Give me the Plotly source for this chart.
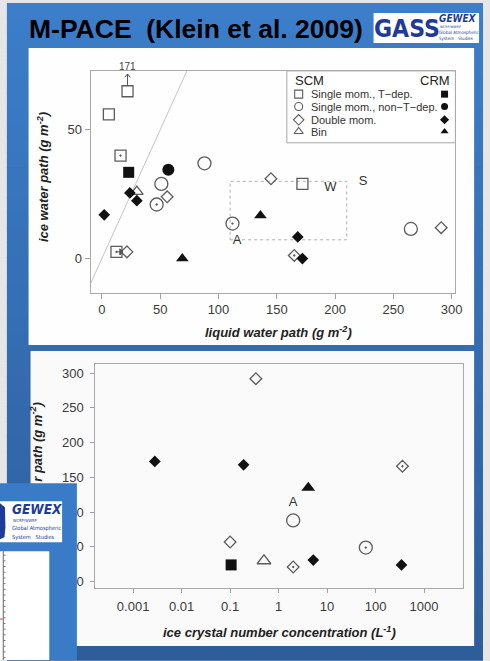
import plotly.graph_objects as go

W, H = 490, 661
SANS = "Liberation Sans, Arial, Helvetica, sans-serif"
NARROW = "Liberation Sans Narrow, DejaVu Sans Condensed, Arial Narrow, sans-serif"

# ---------------- upper panel: ice vs liquid water path (g m-2) ----------------
# SCM results (open symbols); "d" = variants drawn with a centre dot
scm_sq_lwp = [22, 6, 172]            # single moment, T-dependent
scm_sq_iwp = [171, 56, 29]
scm_sqd_lwp = [16, 12.5]
scm_sqd_iwp = [40, 2.6]
scm_ci_lwp = [88, 51, 265]           # single moment, non-T-dependent
scm_ci_iwp = [37, 29, 11.5]
scm_cid_lwp = [47, 112]
scm_cid_iwp = [21, 13.6]
scm_di_lwp = [56, 145, 291, 21.5]    # double moment
scm_di_iwp = [24, 31, 12, 2.6]
scm_did_lwp = [165]
scm_did_iwp = [1.2]
scm_tr_lwp = [30]                    # bin
scm_tr_iwp = [26]
# CRM results (filled symbols)
crm_sq_lwp = [23]
crm_sq_iwp = [33.5]
crm_ci_lwp = [57]
crm_ci_iwp = [34.5]
crm_di_lwp = [24, 30, 2, 168, 172]
crm_di_iwp = [25.5, 22.5, 17, 8.4, 0]
crm_tr_lwp = [136, 69]
crm_tr_iwp = [16.7, 0]
# observations
obs_lwp_range = [110, 210]
obs_iwp_range = [7.3, 30]
obs_labels = ["A", "W", "S"]
obs_lwp = [116, 196, 224]
obs_iwp = [7, 27.5, 30]

lwp_ticks = [0, 50, 100, 150, 200, 250, 300]
iwp_ticks = [0, 50]
IWP_SHOWN_MAX = 65   # larger values sit at this level, marked with an arrow
LWP_RANGE = [-9.6, 303.2]
IWP_RANGE = [-13.2, 72.9]

# ------------- lower panel: LWP vs ice crystal number concentration -------------
ni_di = [0.34, 0.1]                  # open diamond
lw_di = [292, 57]
ni_did = [359, 2.0]                  # open diamond with dot
lw_did = [166, 21]
ni_ci = [2.0]                        # open circle
lw_ci = [88]
ni_cid = [63]                        # open circle with dot
lw_cid = [49]
ni_tr = [0.5]                        # open triangle
lw_tr = [30]
ni_crm_di = [0.0028, 0.19, 5.2, 343] # filled diamond
lw_crm_di = [173, 168, 31, 24]
ni_crm_tr = [4.1]
lw_crm_tr = [135]
ni_crm_sq = [0.105]
lw_crm_sq = [24]
obs2_labels = ["A"]
obs2_ni = [2.0]
obs2_lwp = [114]

ni_ticks = [0.001, 0.01, 0.1, 1, 10, 100, 1000]
lw2_ticks = [0, 50, 100, 150, 200, 250, 300]

legend_names = ["Single mom., T\u2212dep.", "Single mom., non\u2212T\u2212dep.",
                "Double mom.", "Bin"]


def px(x):
    return x / W


def py(y):
    return 1 - y / H


def rect(x0, y0, x1, y1, fill, line=None, layer="below", dash=None):
    return dict(type="rect", xref="paper", yref="paper",
                x0=px(x0), x1=px(x1), y0=py(y1), y1=py(y0), fillcolor=fill,
                line=dict(width=1 if line else 0, color=line or fill, dash=dash),
                layer=layer)


def seg(x0, y0, x1, y1, color, width=1, layer="below"):
    return dict(type="line", xref="paper", yref="paper", x0=px(x0), x1=px(x1),
                y0=py(y0), y1=py(y1), line=dict(color=color, width=width), layer=layer)


def ann(text, x, y, size, color="#222", xanchor="center", yanchor="middle",
        family=SANS, angle=0):
    return dict(text=text, x=px(x), y=py(y), xref="paper", yref="paper",
                xanchor=xanchor, yanchor=yanchor, showarrow=False, textangle=angle,
                font=dict(size=size, color=color, family=family))


OPEN_COL = "#5c5c5c"
FILL_COL = "#111111"


def pts(x, y, symbol, size, filled, xa="x", ya="y"):
    col = FILL_COL if filled else OPEN_COL
    return go.Scatter(x=x, y=y, xaxis=xa, yaxis=ya, mode="markers",
                      hoverinfo="skip", cliponaxis=False,
                      marker=dict(symbol=symbol, size=size, color=col,
                                  line=dict(width=0 if filled else 1.3, color=col)))


fig = go.Figure()

# ---- upper panel traces ----
# 1:1 line across the axis range
fig.add_trace(go.Scatter(x=[LWP_RANGE[0], IWP_RANGE[1]], y=[LWP_RANGE[0], IWP_RANGE[1]],
                         mode="lines", line=dict(color="#c4c4c4", width=1),
                         hoverinfo="skip"))
sq_shown = [min(v, IWP_SHOWN_MAX) for v in scm_sq_iwp]
fig.add_trace(pts(scm_sq_lwp, sq_shown, "square-open", 11, False))
fig.add_trace(pts(scm_sqd_lwp, scm_sqd_iwp, "square-open-dot", 11, False))
fig.add_trace(pts(scm_ci_lwp, scm_ci_iwp, "circle-open", 13, False))
fig.add_trace(pts(scm_cid_lwp, scm_cid_iwp, "circle-open-dot", 13, False))
fig.add_trace(pts(scm_di_lwp, scm_di_iwp, "diamond-open", 9, False))
fig.add_trace(pts(scm_did_lwp, scm_did_iwp, "diamond-open-dot", 9, False))
fig.add_trace(pts(scm_tr_lwp, scm_tr_iwp, "triangle-up-open", 11, False))
fig.add_trace(pts(crm_sq_lwp, crm_sq_iwp, "square", 11, True))
fig.add_trace(pts(crm_ci_lwp, crm_ci_iwp, "circle", 12, True))
fig.add_trace(pts(crm_di_lwp, crm_di_iwp, "diamond", 9, True))
fig.add_trace(pts(crm_tr_lwp, crm_tr_iwp, "triangle-up", 11, True))
fig.add_trace(go.Scatter(x=obs_lwp, y=obs_iwp, mode="text", text=obs_labels,
                         textfont=dict(size=13, color="#333", family=SANS),
                         hoverinfo="skip", cliponaxis=False))

# ---- lower panel traces ----
fig.add_trace(pts(ni_di, lw_di, "diamond-open", 9, False, "x2", "y2"))
fig.add_trace(pts(ni_did, lw_did, "diamond-open-dot", 9, False, "x2", "y2"))
fig.add_trace(pts(ni_ci, lw_ci, "circle-open", 13, False, "x2", "y2"))
fig.add_trace(pts(ni_cid, lw_cid, "circle-open-dot", 13, False, "x2", "y2"))
fig.add_trace(pts(ni_tr, lw_tr, "triangle-up-open", 12, False, "x2", "y2"))
fig.add_trace(pts(ni_crm_di, lw_crm_di, "diamond", 9, True, "x2", "y2"))
fig.add_trace(pts(ni_crm_tr, lw_crm_tr, "triangle-up", 12, True, "x2", "y2"))
fig.add_trace(pts(ni_crm_sq, lw_crm_sq, "square", 11, True, "x2", "y2"))
fig.add_trace(go.Scatter(x=obs2_ni, y=obs2_lwp, mode="text", text=obs2_labels,
                         xaxis="x2", yaxis="y2",
                         textfont=dict(size=13, color="#333", family=SANS),
                         hoverinfo="skip", cliponaxis=False))

# ---- legend glyphs (pixel overlay axes) ----
leg_rows = [94.3, 106.7, 120, 131.7]
open_syms = ["square-open", "circle-open", "diamond-open", "triangle-up-open"]
fill_syms = ["square", "circle", "diamond", "triangle-up"]
for yy, so, sf in zip(leg_rows, open_syms, fill_syms):
    fig.add_trace(go.Scatter(x=[303], y=[yy], xaxis="x3", yaxis="y3", mode="markers",
                             hoverinfo="skip",
                             marker=dict(symbol=so, size=8, color=OPEN_COL,
                                         line=dict(width=1.1, color=OPEN_COL))))
    fig.add_trace(go.Scatter(x=[451], y=[yy], xaxis="x3", yaxis="y3", mode="markers",
                             hoverinfo="skip",
                             marker=dict(symbol=sf, size=7, color=FILL_COL, line=dict(width=0))))

# ---------------- background / slide shapes ----------------
shapes = []
top_rgb = (60, 126, 202)
bot_rgb = (45, 93, 154)
N = 44
for i in range(N):
    t = (i + 0.5) / N
    c = tuple(round(a + (b - a) * t) for a, b in zip(top_rgb, bot_rgb))
    col = "rgb(%d,%d,%d)" % c
    shapes.append(rect(7, 3 + i * (H - 3) / N, W, 3 + (i + 1) * (H - 3) / N + 0.8, col))
shapes.append(rect(29, 48, 481, 345.5, "#fefefe"))
shapes.append(rect(31, 351.5, 481, 647, "#fafafa"))
shapes.append(rect(379, 13, 486, 43, "#ffffff"))
# observed range box in the upper panel
shapes.append(dict(type="rect", xref="x", yref="y", x0=obs_lwp_range[0], x1=obs_lwp_range[1],
                   y0=obs_iwp_range[0], y1=obs_iwp_range[1],
                   line=dict(color="#b0b0b0", width=1, dash="dot"), layer="below"))
# legend box
shapes.append(rect(291, 71, 462, 143, "#ffffff", line="#a8a8a8"))

# arrows: off-scale values point upward; shifted result points right
ARROW = dict(color="#555555", width=1)
for xv, v in zip(scm_sq_lwp, scm_sq_iwp):
    if v > IWP_SHOWN_MAX:
        tip = 71.7
        shapes.append(dict(type="line", xref="x", yref="y", x0=xv, x1=xv,
                           y0=IWP_SHOWN_MAX + 2.4, y1=tip, line=ARROW))
        shapes.append(dict(type="path", xref="x", yref="y",
                           path="M %g,%g L %g,%g L %g,%g" % (xv - 2.4, tip - 1.3, xv, tip,
                                                             xv + 2.4, tip - 1.3),
                           line=ARROW))
x_from, x_to, y_arr = scm_sqd_lwp[1], scm_di_lwp[3] - 3.5, scm_sqd_iwp[1]
shapes.append(dict(type="line", xref="x", yref="y", x0=x_from, x1=x_to,
                   y0=y_arr, y1=y_arr, line=ARROW))
shapes.append(dict(type="path", xref="x", yref="y",
                   path="M %g,%g L %g,%g L %g,%g Z" % (x_to - 2.6, y_arr + 1.2, x_to, y_arr,
                                                       x_to - 2.6, y_arr - 1.2),
                   fillcolor="#555555", line=ARROW))

# neighbouring slide peeking in at the bottom left
shapes.append(rect(0, 484, 78, H, "rgb(58,123,200)", layer="above"))
shapes.append(rect(0, 502, 63, 543, "#ffffff", layer="above"))
shapes.append(dict(type="path", xref="paper", yref="paper", layer="above",
                   path="M %g,%g L %g,%g L %g,%g L %g,%g L %g,%g L %g,%g Z" % (
                       px(0), py(504), px(5), py(508), px(5.5), py(528),
                       px(4.5), py(538), px(0), py(540), px(0), py(504)),
                   fillcolor="#1d3a9c", line=dict(width=0)))
shapes.append(rect(0, 552, 50, H, "#ffffff", layer="above"))
shapes.append(seg(3.3, 552, 3.3, H, "#666", 1, "above"))
yy = 556.0
while yy < H:
    shapes.append(seg(3.3, yy, 5.6, yy, "#777", 1, "above"))
    yy += 5.7
shapes.append(seg(0, 620, 2.6, 620, "#e03030", 1, "above"))

# ---------------- annotations ----------------
annotations = [
    ann("<b>M-PACE\u00a0\u00a0(Klein et al. 2009)</b>", 27, 29, 26.5, "#000", xanchor="left"),
    ann("<b>GASS</b>", 377.5, 28.5, 24.5, "#1d3a9c", xanchor="left", family=NARROW),
    ann("<b><i>GEWEX</i></b>", 443, 19, 10, "#1d3a9c", xanchor="left", family=NARROW),
    ann("WCRP/WWRP", 444, 27.3, 3.5, "#1d3a9c", xanchor="left", family=NARROW),
    ann("Global Atmospheric", 443, 32.5, 4.5, "#1d3a9c", xanchor="left", family=NARROW),
    ann("System\u00a0\u00a0\u00a0Studies", 443, 38.7, 4.5, "#1d3a9c", xanchor="left", family=NARROW),
    # axis titles
    ann("<b><i>liquid water path (g m<sup>-2</sup>)</i></b>", 283, 333, 13, "#222"),
    ann("<b><i>ice water path (g m<sup>-2</sup>)</i></b>", 43, 177, 13, "#222", angle=-90),
    ann("<b><i>ice crystal number concentration (L<sup>-1</sup>)</i></b>", 284, 633, 13, "#222"),
    ann("<b><i>r path (g m<sup>-2</sup>)</i></b>", 37, 484, 13, "#222", yanchor="bottom", angle=-90),
    # legend text
    ann("SCM", 297, 81, 13, "#222", xanchor="left"),
    ann("CRM", 459, 81, 13, "#222", xanchor="right"),
    # neighbouring slide logo
    ann("<b><i>GEWEX</i></b>", 10, 510, 13.5, "#1d3a9c", xanchor="left", family=NARROW),
    ann("WCRP/WWRP", 11, 521.5, 4, "#1d3a9c", xanchor="left", family=NARROW),
    ann("Global Atmospheric", 10.5, 529, 5.6, "#1d3a9c", xanchor="left", family=NARROW),
    ann("System\u00a0\u00a0\u00a0Studies", 10.5, 538, 5.6, "#1d3a9c", xanchor="left", family=NARROW),
]
for yy, name in zip(leg_rows, legend_names):
    annotations.append(ann(name, 313, yy, 11, "#333", xanchor="left"))

# actual value of off-scale points, above the frame
for xv, v in zip(scm_sq_lwp, scm_sq_iwp):
    if v > IWP_SHOWN_MAX:
        annotations.append(dict(x=xv, y=IWP_RANGE[1], xref="x", yref="y", text="%g" % v,
                                showarrow=False, yanchor="bottom", yshift=-3,
                                font=dict(size=10, color="#444", family=SANS)))

axis_style = dict(showline=True, mirror=True, linecolor="#aaaaaa", linewidth=1,
                  ticks="outside", tickcolor="#a0a0a0", tickwidth=1, showgrid=False,
                  zeroline=False, tickfont=dict(size=13, color="#3a3a3a", family=SANS))

fig.update_layout(
    width=W, height=H, margin=dict(l=0, r=0, t=0, b=0),
    paper_bgcolor="#e6e6e6", plot_bgcolor="rgba(0,0,0,0)", showlegend=False,
    xaxis=dict(domain=[px(92), px(462)], range=LWP_RANGE, anchor="y",
               tickvals=lwp_ticks, ticklen=5, **axis_style),
    yaxis=dict(domain=[py(293), py(71)], range=IWP_RANGE, anchor="x",
               tickvals=iwp_ticks, ticklen=5, **axis_style),
    xaxis2=dict(domain=[px(96.7), px(470)], type="log", range=[-3.78, 3.81], anchor="y2",
                tickvals=ni_ticks, ticktext=["%g" % v for v in ni_ticks], ticklen=4,
                ticklabelstandoff=2, **axis_style),
    yaxis2=dict(domain=[py(589.3), py(365)], range=[-9.8, 312.5], anchor="x2",
                tickvals=lw2_ticks, ticklen=4, ticklabelstandoff=4, **axis_style),
    xaxis3=dict(domain=[0, 1], range=[0, W], visible=False, anchor="y3"),
    yaxis3=dict(domain=[0, 1], range=[H, 0], visible=False, anchor="x3"),
    shapes=shapes, annotations=annotations,
)

fig.write_html("out.html")
